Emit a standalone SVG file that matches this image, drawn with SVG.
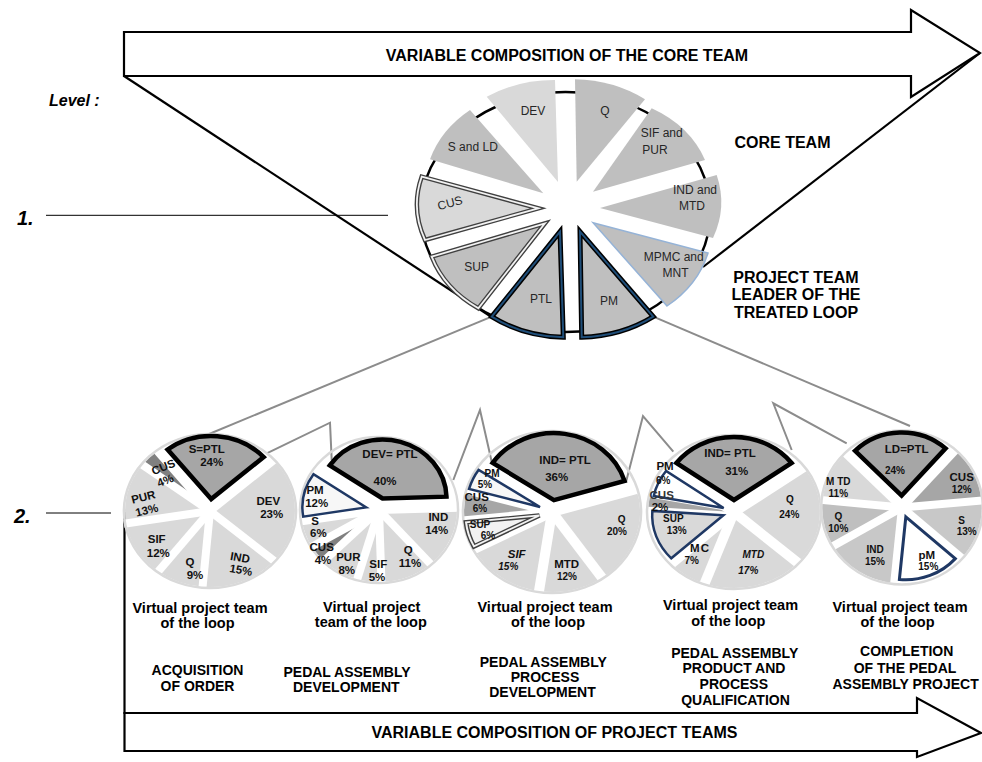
<svg xmlns="http://www.w3.org/2000/svg" xmlns:xlink="http://www.w3.org/1999/xlink" width="982" height="762" viewBox="0 0 982 762">
<style>
  text { font-family: "Liberation Sans", Arial, sans-serif; fill: #000; }
  .m { text-anchor: middle; }
  .h16 { font-size: 16px; font-weight: bold; }
  .ph { font-size: 14px; font-weight: bold; text-anchor: middle; }
  .vt { font-size: 14.5px; font-weight: bold; text-anchor: middle; }
  .lv { font-weight: bold; font-style: italic; }
  .cl { font-size: 12px; text-anchor: middle; fill: #262626; }
  .pl { font-size: 11.5px; font-weight: bold; text-anchor: middle; fill: #111; }
  .sm { font-size: 10px; }
  .it { font-style: italic; }
  .blk { fill: none; stroke: #000; stroke-width: 2.2; }
  .thin { fill: none; stroke: #000; stroke-width: 1; }
  .gry { fill: none; stroke: #8c8c8c; stroke-width: 2; }
  .s { fill: none; }
  .sep { stroke: #fff; stroke-width: 8; vector-effect: non-scaling-stroke; }
  .sepw { stroke: #fff; stroke-width: 10; vector-effect: non-scaling-stroke; }
  .ring { fill: none; stroke: #d9d9d9; stroke-width: 2.5; vector-effect: non-scaling-stroke; }
  .hl { fill: #a6a6a6; stroke: #000; stroke-width: 4.5; vector-effect: non-scaling-stroke; }
  .nv { fill: #f7f7f7; stroke: #1f3864; stroke-width: 2.5; vector-effect: non-scaling-stroke; }
  .dbo { stroke: #404040; stroke-width: 4.5; vector-effect: non-scaling-stroke; }
  .dbi { fill: none; stroke: #f2f2f2; stroke-width: 1.8; vector-effect: non-scaling-stroke; }
  .ko { stroke: #000; stroke-width: 5; }
  .ki { fill: none; stroke: #1f4e79; stroke-width: 2; }
</style>
<defs>
  <!-- core team slices that carry a double outline -->
  <path id="core-cus" d="M538.3,208.3 L425,240 A121,100 0 0 1 421.7,176.7 Z"/>
  <path id="core-sup" d="M545,223.3 L478.3,308.3 A121,100 0 0 1 431.7,256.7 Z"/>
  <path id="core-ptl" d="M560,231.7 L563.3,337.3 A126,104 0 0 1 491.7,316.7 Z"/>
  <path id="core-pm" d="M580,231.7 L653.3,316.7 A127,105 0 0 1 581.7,337.3 Z"/>
  <path id="p3-sup" d="M0,0 L65.81,-12.56 A67,67 0 0 1 65.81,12.56 Z"/>
</defs>

<rect width="982" height="762" fill="#fff"/>

<!-- connectors -->
<g id="connectors">
  <line class="blk" x1="124" y1="76" x2="493" y2="318"/>
  <line class="blk" x1="980" y1="53" x2="703" y2="267"/>
  <line class="thin" x1="46" y1="215.3" x2="388" y2="215.3"/>
  <line class="thin" x1="46" y1="513" x2="111" y2="513"/>
  <line class="blk" x1="124.5" y1="512" x2="124.5" y2="714"/>
  <polyline class="gry" points="491.7,316.7 206.7,435"/>
  <polyline class="gry" points="653.3,316.7 910,426"/>
  <polyline class="gry" points="556.7,230 570,216 583.3,230"/>
  <polyline class="gry" points="266.7,453.3 330,422.7 331.7,460"/>
  <polyline class="gry" points="453.3,480 480,410 491.7,461.7"/>
  <polyline class="gry" points="626,482 643,416 673.3,451.7"/>
  <polyline class="gry" points="791.7,450 773.3,403.3 846.7,443.3"/>
</g>

<!-- top arrow -->
<g id="arrow-core">
  <path class="blk" d="M124,32 H911 V10 L980,53 L911,97 V76 H124 Z" style="fill:#fff"/>
  <text class="h16 m" x="567" y="61">VARIABLE COMPOSITION OF THE CORE TEAM</text>
</g>

<!-- bottom arrow -->
<g id="arrow-project">
  <path class="blk" d="M124.5,713 H917 V698 L981,733 L917,757 V751 H124.5 Z" style="fill:#fff"/>
  <text class="h16 m" x="554.5" y="738">VARIABLE COMPOSITION OF PROJECT TEAMS</text>
</g>

<!-- level labels -->
<g id="levels">
  <text class="lv" x="49" y="106" font-size="16">Level :</text>
  <text class="lv" x="17" y="225" font-size="20">1.</text>
  <text class="lv" x="14" y="523" font-size="20">2.</text>
</g>

<!-- level 1: core team -->
<g id="core-team">
  <ellipse cx="565.5" cy="212" rx="145" ry="120" fill="#fff" stroke="#000" stroke-width="2.5"/>
  <path d="M558,182 L486.7,96.7 A124,103 0 0 1 555,80 Z" fill="#d9d9d9"/>
  <path d="M576.7,181.7 L575,79.3 A122,101 0 0 1 645,99.3 Z" fill="#bfbfbf"/>
  <path d="M593,191.7 L651.7,108.3 A117,97 0 0 1 705,160 Z" fill="#bfbfbf"/>
  <path d="M600,208 L716.7,175 A121,100 0 0 1 713,238 Z" fill="#bfbfbf"/>
  <path d="M593,222.7 L708,253 A122,101 0 0 1 667,306 Z" fill="#bfbfbf" stroke="#95b3d7" stroke-width="1.5"/>
  <path d="M543.3,193.3 L430,159.3 A122,101 0 0 1 470,110 Z" fill="#bfbfbf"/>
  <use xlink:href="#core-cus" class="dbo" fill="#d9d9d9"/>
  <use xlink:href="#core-cus" class="dbi"/>
  <use xlink:href="#core-sup" class="dbo" fill="#bfbfbf"/>
  <use xlink:href="#core-sup" class="dbi"/>
  <use xlink:href="#core-ptl" class="ko" fill="#bfbfbf"/>
  <use xlink:href="#core-ptl" class="ki"/>
  <use xlink:href="#core-pm" class="ko" fill="#bfbfbf"/>
  <use xlink:href="#core-pm" class="ki"/>
  <text class="cl" x="533" y="115">DEV</text>
  <text class="cl" x="605" y="115">Q</text>
  <text class="cl" x="661.7" y="137">SIF and</text>
  <text class="cl" x="655" y="154">PUR</text>
  <text class="cl" x="695" y="194">IND and</text>
  <text class="cl" x="692" y="210">MTD</text>
  <text class="cl" x="673.7" y="260.7">MPMC and</text>
  <text class="cl" x="675.5" y="277.3">MNT</text>
  <text class="cl" x="609" y="305">PM</text>
  <text class="cl" x="541" y="303.3">PTL</text>
  <text class="cl" x="476.7" y="270.7">SUP</text>
  <text class="cl" x="450" y="207" transform="rotate(-15 450 203)">CUS</text>
  <text class="cl" x="472.8" y="150.7">S and LD</text>
</g>
<g id="core-team-captions">
  <text class="h16 m" x="782.5" y="148">CORE TEAM</text>
  <text class="h16 m" x="796" y="283.3">PROJECT TEAM</text>
  <text class="h16 m" x="796" y="300.3">LEADER OF THE</text>
  <text class="h16 m" x="796" y="318.3">TREATED LOOP</text>
</g>

<!-- level 2: pie 1, acquisition of order -->
<g id="pie-acquisition">
  <g transform="translate(210 511) scale(1.118 1)">
    <g class="s" stroke-width="76">
      <circle r="38" pathLength="360" stroke="#d9d9d9" stroke-dasharray="82.8 360" transform="rotate(-41.8)"/>
      <circle r="38" pathLength="360" stroke="#d9d9d9" stroke-dasharray="54 360" transform="rotate(41)"/>
      <circle r="38" pathLength="360" stroke="#d9d9d9" stroke-dasharray="32.4 360" transform="rotate(95)"/>
      <circle r="38" pathLength="360" stroke="#d9d9d9" stroke-dasharray="43.2 360" transform="rotate(127.4)"/>
      <circle r="38" pathLength="360" stroke="#d9d9d9" stroke-dasharray="46.8 360" transform="rotate(170.6)"/>
      <circle r="38" pathLength="360" stroke="#808080" stroke-dasharray="14.4 360" transform="rotate(217.4)"/>
    </g>
    <line class="sep" x2="78" transform="rotate(-128.2)"/>
    <line class="sep" x2="78" transform="rotate(-41.8)"/>
    <line class="sep" x2="78" transform="rotate(41)"/>
    <line class="sep" x2="78" transform="rotate(95)"/>
    <line class="sep" x2="78" transform="rotate(127.4)"/>
    <line class="sep" x2="78" transform="rotate(170.6)"/>
    <line class="sep" x2="78" transform="rotate(217.4)"/>
    <circle class="ring" r="77"/>
    <path class="hl" d="M0,0 L45.93,-43.12 A63,63 0 0 1 45.93,43.12 Z" transform="rotate(-85) translate(12 0)"/>
  </g>
  <text class="pl" x="206.7" y="452.7" font-size="13">S=PTL</text>
  <text class="pl" x="211.7" y="465.5">24%</text>
  <text class="pl" x="268.3" y="505">DEV</text>
  <text class="pl" x="271.7" y="517.5">23%</text>
  <text class="pl" x="240" y="561.5" transform="rotate(10 240 558)">IND</text>
  <text class="pl" x="241" y="574" transform="rotate(10 241 570)">15%</text>
  <text class="pl" x="190" y="565.5">Q</text>
  <text class="pl" x="195" y="578.5">9%</text>
  <text class="pl" x="156.7" y="543">SIF</text>
  <text class="pl" x="158.3" y="556.7">12%</text>
  <text class="pl" x="143.3" y="501" transform="rotate(-14 143 497)">PUR</text>
  <text class="pl" x="146.7" y="514" transform="rotate(-14 147 510)">13%</text>
  <text class="pl" x="163.3" y="471" transform="rotate(-22 163 467)">CUS</text>
  <text class="pl" x="165" y="484.5" transform="rotate(-22 165 480)">4%</text>
  <text class="vt" x="200" y="612.5">Virtual project team</text>
  <text class="vt" x="197.5" y="627.5">of the loop</text>
  <text class="ph" x="197.5" y="675">ACQUISITION</text>
  <text class="ph" x="197.5" y="690.7">OF ORDER</text>
</g>

<!-- level 2: pie 2, pedal assembly development -->
<g id="pie-development">
  <g transform="translate(379 510) scale(1.083 1)">
    <g class="s" stroke-width="72">
      <circle r="36" pathLength="360" stroke="#d9d9d9" stroke-dasharray="50.4 360" transform="rotate(-1.8)"/>
      <circle r="36" pathLength="360" stroke="#d9d9d9" stroke-dasharray="39.6 360" transform="rotate(48.6)"/>
      <circle r="36" pathLength="360" stroke="#d9d9d9" stroke-dasharray="18 360" transform="rotate(88.2)"/>
      <circle r="36" pathLength="360" stroke="#d9d9d9" stroke-dasharray="28.8 360" transform="rotate(106.2)"/>
      <circle r="36" pathLength="360" stroke="#808080" stroke-dasharray="14.4 360" transform="rotate(135)"/>
      <circle r="36" pathLength="360" stroke="#d9d9d9" stroke-dasharray="21.6 360" transform="rotate(149.4)"/>
    </g>
    <line class="sep" x2="74" transform="rotate(-145.8)"/>
    <line class="sep" x2="74" transform="rotate(-1.8)"/>
    <line class="sep" x2="74" transform="rotate(48.6)"/>
    <line class="sep" x2="74" transform="rotate(88.2)"/>
    <line class="sep" x2="74" transform="rotate(106.2)"/>
    <line class="sep" x2="74" transform="rotate(135)"/>
    <line class="sep" x2="74" transform="rotate(149.4)"/>
    <line class="sep" x2="74" transform="rotate(171)"/>
    <circle class="ring" r="73"/>
    <path class="hl" d="M0,0 L18.23,-56.11 A59,59 0 0 1 18.23,56.11 Z" transform="rotate(-73.8) translate(12 0)"/>
    <path class="nv" d="M0,0 L54.86,-21.72 A59,59 0 0 1 54.86,21.72 Z" transform="rotate(192.6) translate(12 0)"/>
  </g>
  <text class="pl" x="390" y="458.3">DEV= PTL</text>
  <text class="pl" x="385" y="485" font-size="12">40%</text>
  <text class="pl" x="315" y="493.5">PM</text>
  <text class="pl" x="316.7" y="506.5">12%</text>
  <text class="pl" x="315" y="524.5">S</text>
  <text class="pl" x="318.3" y="537">6%</text>
  <text class="pl" x="321.7" y="551">CUS</text>
  <text class="pl" x="323" y="564">4%</text>
  <text class="pl" x="348.3" y="561">PUR</text>
  <text class="pl" x="346.7" y="574">8%</text>
  <text class="pl" x="378.3" y="567.5">SIF</text>
  <text class="pl" x="377" y="580.5">5%</text>
  <text class="pl" x="408.3" y="553.5">Q</text>
  <text class="pl" x="410" y="567">11%</text>
  <text class="pl" x="438.3" y="521">IND</text>
  <text class="pl" x="436.7" y="534">14%</text>
  <text class="vt" x="371.7" y="612">Virtual project</text>
  <text class="vt" x="370.8" y="627">team of the loop</text>
  <text class="ph" x="347" y="677.3">PEDAL ASSEMBLY</text>
  <text class="ph" x="346.3" y="691.7">DEVELOPMENT</text>
</g>

<!-- level 2: pie 3, pedal assembly process development -->
<g id="pie-process">
  <g transform="translate(552 512) scale(1.1 1)">
    <g class="s" stroke-width="80">
      <circle r="40" pathLength="360" stroke="#d9d9d9" stroke-dasharray="72 360" transform="rotate(-16.7)"/>
      <circle r="40" pathLength="360" stroke="#d9d9d9" stroke-dasharray="43.2 360" transform="rotate(55.3)"/>
      <circle r="40" pathLength="360" stroke="#d9d9d9" stroke-dasharray="54 360" transform="rotate(98.5)"/>
      <circle r="40" pathLength="360" stroke="#a6a6a6" stroke-dasharray="21.6 360" transform="rotate(174.1)"/>
    </g>
    <line class="sepw" x2="82" transform="rotate(-146.3)"/>
    <line class="sepw" x2="82" transform="rotate(-16.7)"/>
    <line class="sepw" x2="82" transform="rotate(55.3)"/>
    <line class="sepw" x2="82" transform="rotate(98.5)"/>
    <line class="sepw" x2="82" transform="rotate(152.5)"/>
    <line class="sep" x2="82" transform="rotate(174.1)"/>
    <line class="sep" x2="82" transform="rotate(195.7)"/>
    <circle class="ring" r="81"/>
    <path class="hl" d="M0,0 L28.53,-60.62 A67,67 0 0 1 28.53,60.62 Z" transform="rotate(-81.5) translate(12 0)"/>
    <use xlink:href="#p3-sup" class="dbo" fill="#f2f2f2" transform="rotate(163.3) translate(12 0)"/>
    <use xlink:href="#p3-sup" class="dbi" transform="rotate(163.3) translate(12 0)"/>
    <path class="nv" d="M0,0 L66.17,-10.48 A67,67 0 0 1 66.17,10.48 Z" transform="rotate(204.7) translate(12 0)"/>
  </g>
  <text class="pl" x="565" y="464" font-size="14">IND= PTL</text>
  <text class="pl" x="556.7" y="481" font-size="10">36%</text>
  <text class="pl sm" x="492" y="476.5">PM</text>
  <text class="pl sm" x="485" y="488">5%</text>
  <text class="pl" x="476.7" y="500.5" font-size="10.5">CUS</text>
  <text class="pl sm" x="480" y="511.5">6%</text>
  <text class="pl sm" x="480" y="527.5">SUP</text>
  <text class="pl sm" x="488" y="539">6%</text>
  <text class="pl it" x="516.7" y="557.5" font-size="11">SIF</text>
  <text class="pl it sm" x="508.3" y="570">15%</text>
  <text class="pl" x="566.7" y="567.5" font-size="9.5">MTD</text>
  <text class="pl sm" x="567" y="579.5">12%</text>
  <text class="pl sm" x="621.7" y="522.5">Q</text>
  <text class="pl sm" x="617" y="535">20%</text>
  <text class="vt" x="545" y="612">Virtual project team</text>
  <text class="vt" x="548" y="627">of the loop</text>
  <text class="ph" x="543.3" y="666.5">PEDAL ASSEMBLY</text>
  <text class="ph" x="545" y="681.7">PROCESS</text>
  <text class="ph" x="542.5" y="697.3">DEVELOPMENT</text>
</g>

<!-- level 2: pie 4, product and process qualification -->
<g id="pie-qualification">
  <g transform="translate(734 512) scale(1.13 1)">
    <g class="s" stroke-width="76">
      <circle r="38" pathLength="360" stroke="#d9d9d9" stroke-dasharray="78 360" transform="rotate(-36)"/>
      <circle r="38" pathLength="360" stroke="#d9d9d9" stroke-dasharray="68 360" transform="rotate(42)"/>
      <circle r="38" pathLength="360" stroke="#d9d9d9" stroke-dasharray="27 360" transform="rotate(110)"/>
      <circle r="38" pathLength="360" stroke="#a6a6a6" stroke-dasharray="7 360" transform="rotate(184)"/>
    </g>
    <line class="sepw" x2="78" transform="rotate(-144)"/>
    <line class="sepw" x2="78" transform="rotate(-36)"/>
    <line class="sepw" x2="78" transform="rotate(42)"/>
    <line class="sepw" x2="78" transform="rotate(110)"/>
    <line class="sepw" x2="78" transform="rotate(137)"/>
    <circle class="ring" r="77"/>
    <path class="hl" d="M0,0 L37.03,-50.97 A63,63 0 0 1 37.03,50.97 Z" transform="rotate(-90) translate(12 0)"/>
    <path class="nv" d="M0,0 L57.78,-25.12 A63,63 0 0 1 57.78,25.12 Z" transform="rotate(160.5) translate(10 0)" style="fill:#d9d9d9"/>
    <path class="nv" d="M0,0 L61.51,-13.63 A63,63 0 0 1 61.51,13.63 Z" transform="rotate(203.5) translate(10 0)" style="fill:#fff"/>
  </g>
  <text class="pl" x="730" y="456.7" font-size="13">IND= PTL</text>
  <text class="pl" x="736.7" y="475" font-size="10.5">31%</text>
  <text class="pl" x="665" y="469.5" font-size="11.5">PM</text>
  <text class="pl sm" x="663.3" y="484">6%</text>
  <text class="pl" x="661.7" y="499" font-size="10.5" style="fill:#333">CUS</text>
  <text class="pl" x="660" y="510.5" font-size="9">2%</text>
  <text class="pl sm" x="673.3" y="522">SUP</text>
  <text class="pl sm" x="676.7" y="533.5">13%</text>
  <text class="pl" x="700" y="551.5" font-size="9" letter-spacing="1">MC</text>
  <text class="pl sm" x="691.7" y="564">7%</text>
  <text class="pl it sm" x="753.3" y="558">MTD</text>
  <text class="pl it sm" x="748.3" y="574">17%</text>
  <text class="pl sm" x="790" y="503">Q</text>
  <text class="pl sm" x="789.3" y="517.5">24%</text>
  <text class="vt" x="730.5" y="609.5">Virtual project team</text>
  <text class="vt" x="728.3" y="626">of the loop</text>
  <text class="ph" x="734.7" y="658.3">PEDAL ASSEMBLY</text>
  <text class="ph" x="734" y="673.3">PRODUCT AND</text>
  <text class="ph" x="733.8" y="689.3">PROCESS</text>
  <text class="ph" x="735.5" y="705">QUALIFICATION</text>
</g>

<!-- level 2: pie 5, completion of the project -->
<g id="pie-completion">
  <g transform="translate(902 507.5) scale(1.05 1)">
    <g class="s" stroke-width="76">
      <circle r="38" pathLength="360" stroke="#a6a6a6" stroke-dasharray="43.2 360" transform="rotate(-48.4)"/>
      <circle r="38" pathLength="360" stroke="#c8c8c8" stroke-dasharray="46.8 360" transform="rotate(-5.2)"/>
      <circle r="38" pathLength="360" stroke="#c8c8c8" stroke-dasharray="54 360" transform="rotate(95.6)"/>
      <circle r="38" pathLength="360" stroke="#bfbfbf" stroke-dasharray="36 360" transform="rotate(149.6)"/>
      <circle r="38" pathLength="360" stroke="#d9d9d9" stroke-dasharray="39.6 360" transform="rotate(185.6)"/>
    </g>
    <line class="sep" x2="78" transform="rotate(-134.8)"/>
    <line class="sep" x2="78" transform="rotate(-48.4)"/>
    <line class="sep" x2="78" transform="rotate(-5.2)"/>
    <line class="sep" x2="78" transform="rotate(41.6)"/>
    <line class="sep" x2="78" transform="rotate(95.6)"/>
    <line class="sep" x2="78" transform="rotate(149.6)"/>
    <line class="sep" x2="78" transform="rotate(185.6)"/>
    <circle class="ring" r="77"/>
    <path class="hl" d="M0,0 L45.93,-43.12 A63,63 0 0 1 45.93,43.12 Z" transform="rotate(-91.6) translate(12 0)"/>
    <path class="nv" d="M0,0 L56.13,-28.6 A63,63 0 0 1 56.13,28.6 Z" transform="rotate(68.6) translate(10 0)" style="fill:#fff;stroke-width:3"/>
  </g>
  <text class="pl" x="906.7" y="453.3" font-size="13.5">LD=PTL</text>
  <text class="pl sm" x="895" y="474">24%</text>
  <text class="pl" x="961.7" y="481" font-size="12">CUS</text>
  <text class="pl sm" x="961.7" y="493">12%</text>
  <text class="pl sm" x="961.7" y="523.5">S</text>
  <text class="pl sm" x="966.7" y="535">13%</text>
  <text class="pl" x="926.7" y="558.5" font-size="12.5">pM</text>
  <text class="pl sm" x="928.3" y="570">15%</text>
  <text class="pl sm" x="875" y="553">IND</text>
  <text class="pl sm" x="875" y="565">15%</text>
  <text class="pl sm" x="838.3" y="519.5">Q</text>
  <text class="pl sm" x="838.3" y="531.5">10%</text>
  <text class="pl sm" x="838.3" y="484.5">M TD</text>
  <text class="pl sm" x="838.3" y="496.5">11%</text>
  <text class="vt" x="900" y="612">Virtual project team</text>
  <text class="vt" x="897.5" y="627">of the loop</text>
  <text class="ph" x="906.7" y="656">COMPLETION</text>
  <text class="ph" x="905" y="673.3">OF THE PEDAL</text>
  <text class="ph" x="905.6" y="689.3">ASSEMBLY PROJECT</text>
</g>
</svg>
